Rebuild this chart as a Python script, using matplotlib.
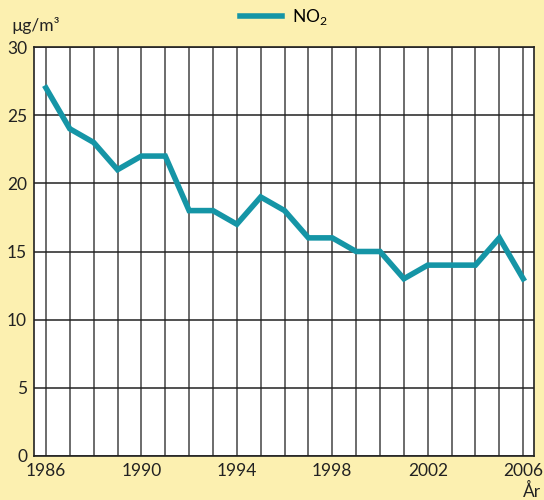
import matplotlib
matplotlib.use("Agg")
import matplotlib.pyplot as plt

years = list(range(1986, 2007))
no2 = [27, 24, 23, 21, 22, 22, 18, 18, 17, 19, 18, 16, 16, 15, 15, 13, 14, 14, 14, 16, 13]
xticks = [1986, 1990, 1994, 1998, 2002, 2006]
yticks = [0, 5, 10, 15, 20, 25, 30]

plt.rcParams["font.family"] = ["Lato", "DejaVu Sans"]
plt.rcParams["mathtext.fontset"] = "custom"
plt.rcParams["mathtext.rm"] = "Lato"

bg = "#fcf0b0"
teal = "#1595a6"

fig = plt.figure(figsize=(5.44, 5.0), dpi=100, facecolor=bg)
ax = fig.add_axes([0.0625, 0.088, 0.919, 0.818])
ax.set_facecolor("white")

ax.plot(years, no2, color=teal, lw=4.0, solid_joinstyle="miter", label="NO$_2$", zorder=3)

ax.set_xlim(1985.5, 2006.45)
ax.set_ylim(0, 30)
ax.set_xticks(years, minor=True)
ax.set_xticks(xticks)
ax.set_yticks(yticks)
ax.grid(True, which="both", axis="x", color="#444444", lw=1.1)
ax.grid(True, which="major", axis="y", color="#222222", lw=1.1)
ax.tick_params(which="both", length=0, labelsize=12.5, colors="#222222", pad=5)
for s in ax.spines.values():
    s.set_color("#222222")
    s.set_linewidth(1.2)

ax.legend(loc="lower center", bbox_to_anchor=(0.5, 1.01), frameon=False,
          fontsize=12.5, handlelength=2.4, handletextpad=0.6)

fig.text(0.02, 0.95, "µg/m³", fontsize=12.5, color="#222222", va="center")
fig.text(0.995, 0.018, "År", fontsize=12.5, color="#222222", ha="right", va="center")

fig.savefig("out.png", dpi=100, facecolor=bg)
